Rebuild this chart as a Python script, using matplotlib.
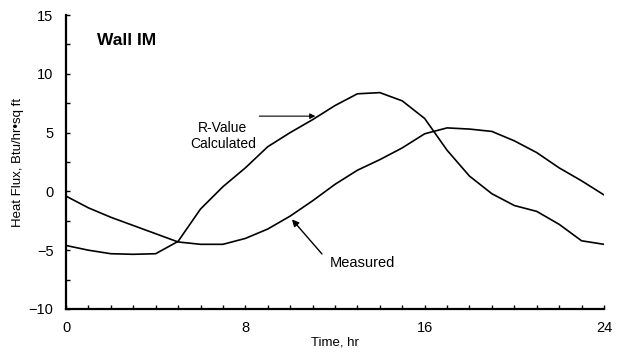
import matplotlib
matplotlib.use("Agg")
import matplotlib.pyplot as plt
from matplotlib.ticker import MultipleLocator, FixedLocator

plt.rcParams['font.family'] = ['Liberation Sans', 'DejaVu Sans']

hours = list(range(0, 25))
r_value_calculated = [-4.6, -5.0, -5.3, -5.35, -5.3, -4.25, -1.5, 0.4, 2.0, 3.8, 5.0, 6.1,
                      7.3, 8.3, 8.4, 7.7, 6.2, 3.5, 1.3, -0.2, -1.2, -1.7, -2.8, -4.2, -4.5]
measured = [-0.4, -1.4, -2.2, -2.9, -3.6, -4.3, -4.5, -4.5, -4.0, -3.2, -2.1, -0.8, 0.6,
            1.8, 2.7, 3.7, 4.9, 5.4, 5.3, 5.1, 4.3, 3.3, 2.0, 0.9, -0.3]
x_ticks = [0, 8, 16, 24]
y_ticks = [-10, -5, 0, 5, 10, 15]

fig = plt.figure(figsize=(6.21, 3.6), dpi=100)
ax = fig.add_axes([0.1063, 0.1417, 0.8663, 0.8166])

ax.plot(hours, r_value_calculated, color='black', lw=1.2)
ax.plot(hours, measured, color='black', lw=1.2)

ax.set_xlim(0, 24)
ax.set_ylim(-10, 15)
ax.xaxis.set_major_locator(FixedLocator(x_ticks))
ax.xaxis.set_minor_locator(MultipleLocator(1))
ax.yaxis.set_major_locator(FixedLocator(y_ticks))
ax.yaxis.set_minor_locator(MultipleLocator(2.5))
ax.tick_params(which='both', direction='in', length=3, width=1, labelsize=10.5, pad=9)
for s in ['top', 'right']:
    ax.spines[s].set_visible(False)
for s in ['left', 'bottom']:
    ax.spines[s].set_linewidth(1.6)

ax.set_xlabel('Time, hr', fontsize=9.5, labelpad=1)
ax.set_ylabel('Heat Flux, Btu/hr\u2022sq ft', fontsize=9.5, labelpad=3)

ax.text(1.4, 12.8, 'Wall IM', fontsize=12.5, fontweight='bold', va='center')
ax.text(7.0, 4.7, 'R-Value\nCalculated', fontsize=10, ha='center', va='center', linespacing=1.15)
ax.annotate('', xy=(11.25, 6.4), xytext=(8.5, 6.4),
            arrowprops=dict(arrowstyle='-|>', color='black', lw=0.8, mutation_scale=8))
ax.text(11.75, -6.1, 'Measured', fontsize=10.5, ha='left', va='center')
ax.annotate('', xy=(10.0, -2.2), xytext=(11.5, -5.5),
            arrowprops=dict(arrowstyle='-|>', color='black', lw=1.0, mutation_scale=10))

fig.savefig('out.png', dpi=100)
